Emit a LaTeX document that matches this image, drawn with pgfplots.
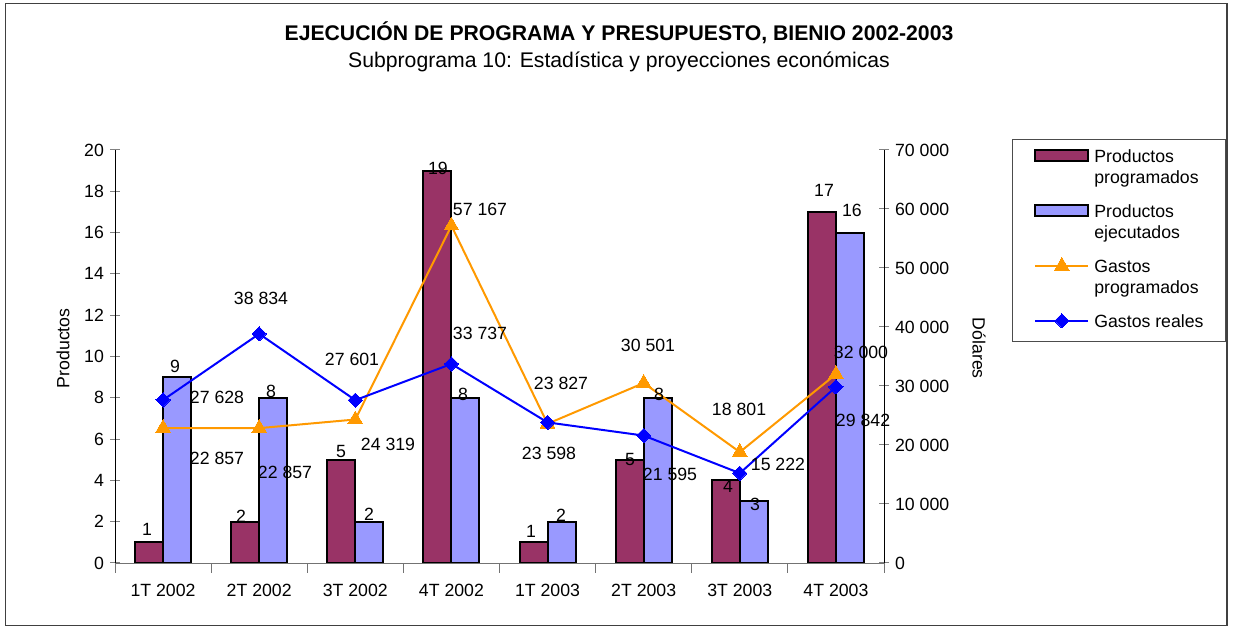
\documentclass[border=0pt]{standalone}
\usepackage{fontspec}
\setmainfont{Liberation Sans}
\usepackage{pgfplots}
\pgfplotsset{compat=1.18}
\definecolor{prog}{HTML}{993366}
\definecolor{ejec}{HTML}{9999FF}
\definecolor{gprog}{HTML}{FF9900}
\definecolor{greal}{HTML}{0000FF}
\pgfplotsset{
  base/.style={
    at={(115bp,66bp)}, anchor=south west, scale only axis,
    width=769bp, height=413bp, xmin=-0.5, xmax=7.5,
  },
  /pgf/number format/assume math mode=true,
  barleg/.style={legend image code/.code={\draw[##1] (0bp,1bp) rectangle (53bp,12bp);}},
  lineleg/.style={legend image code/.code={\draw[mark repeat=2, mark phase=2, ##1] plot coordinates {(0bp,6.5bp) (26.5bp,6.5bp) (53bp,6.5bp)};}},
}
\begin{document}
\fontsize{17.7bp}{21.2bp}\selectfont
\begin{tikzpicture}[x=1bp,y=1bp]
\path[use as bounding box] (0,0) rectangle (1233,629);
\draw[line width=1.2bp, black!75] (5.5,3.5) rectangle (1227,625.5);
\node[font=\fontsize{21.2bp}{25bp}\selectfont\bfseries] at (619,596) {EJECUCIÓN DE PROGRAMA Y PRESUPUESTO, BIENIO 2002-2003};
\node[font=\fontsize{21.2bp}{25bp}\selectfont] at (619,567) {Subprograma 10: Estadística y proyecciones económicas};

% ---------- left axis: bars ----------
\begin{axis}[base,
  ymin=0, ymax=20,
  axis x line*=bottom, axis y line*=left, axis line style={-},
  x axis line style={draw=black!55},
  xtick={-0.5,0.5,...,7.5}, xticklabels={},
  extra x ticks={0,1,2,3,4,5,6,7},
  extra x tick labels={1T 2002,2T 2002,3T 2002,4T 2002,1T 2003,2T 2003,3T 2003,4T 2003},
  extra x tick style={major tick length=0pt, xticklabel style={yshift=-15bp}},
  xtick style={draw=black!55, line width=1bp},
  ytick={0,2,...,20},
  ytick style={line width=1bp},
  tick align=center, major tick length=10bp,
  ylabel={Productos},
  ylabel style={at={(axis description cs:-0.0676,0.52)}, anchor=center},
  ybar, bar width=28bp,
]
\addplot[ybar, bar shift=-14bp, fill=prog, draw=black, line width=1.9bp]
  coordinates {(0,1) (1,2) (2,5) (3,19) (4,1) (5,5) (6,4) (7,17)};
\addplot[ybar, bar shift=14bp, fill=ejec, draw=black, line width=1.9bp]
  coordinates {(0,9) (1,8) (2,2) (3,8) (4,2) (5,8) (6,3) (7,16)};
\end{axis}

% ---------- right axis: lines ----------
\begin{axis}[base,
  ymin=0, ymax=70000,
  axis x line=none, axis y line*=right, axis line style={-},
  ytick={0,10000,...,70000}, scaled y ticks=false,
  yticklabel style={/pgf/number format/.cd, 1000 sep={\ }},
  ytick style={line width=1bp},
  tick align=center, major tick length=10bp,
  ylabel={Dólares},
  ylabel style={at={(axis description cs:1.1235,0.52)}, anchor=center, rotate=180},
  every axis legend/.style={
    at={(axis description cs:1.1664,1.0266)}, anchor=north west,
    draw=black!70, line width=0.8bp, fill=white,
    inner xsep=22bp, inner ysep=8bp,
    row sep=12.6bp, column sep=5bp,
    nodes={inner sep=0pt},
    cells={anchor=base west},
  },
]
\addlegendimage{fill=prog, draw=black, line width=1.9bp, barleg}
\addlegendentry{\begin{tabular}[t]{@{}l@{}}Productos\\programados\end{tabular}}
\addlegendimage{fill=ejec, draw=black, line width=1.9bp, barleg}
\addlegendentry{\begin{tabular}[t]{@{}l@{}}Productos\\ejecutados\end{tabular}}
\addplot[gprog, line width=2bp, mark=triangle*, mark size=8.5bp,
  mark options={fill=gprog, draw=gprog, line width=0pt}, lineleg]
  coordinates {(0,22857) (1,22857) (2,24319) (3,57167) (4,23598) (5,30501) (6,18801) (7,32000)};
\addlegendentry{\begin{tabular}[t]{@{}l@{}}Gastos\\programados\end{tabular}}
\addplot[greal, line width=2bp, mark=square*, mark size=5bp,
  mark options={fill=greal, draw=greal, line width=0pt, rotate=45}, lineleg]
  coordinates {(0,27628) (1,38834) (2,27601) (3,33737) (4,23827) (5,21595) (6,15222) (7,29842)};
\addlegendentry{\begin{tabular}[t]{@{}l@{}}Gastos reales\\ \end{tabular}}
\end{axis}

% ---------- data labels ----------
\begin{axis}[base, ymin=0, ymax=20, hide axis, clip=false]
\addplot[only marks, mark=none, nodes near coords, point meta=explicit symbolic,
  nodes near coords style={anchor=center, inner sep=0pt, black}]
  table[col sep=comma, x=x, y=y, meta=label] {
x,y,label
-0.167,1.65,1
0.124,9.54,9
0.811,2.28,2
1.123,8.33,8
1.851,5.38,5
2.142,2.37,2
2.860,19.13,19
3.120,8.14,8
3.828,1.55,1
4.140,2.32,2
4.858,4.99,5
5.159,8.18,8
5.877,3.73,4
6.158,2.86,3
6.876,18.06,17
7.167,17.05,16
0.561,8.04,27 628
0.561,5.08,22 857
1.019,12.83,38 834
1.269,4.41,22 857
1.966,9.88,27 601
2.340,5.76,24 319
3.297,17.14,57 167
3.297,11.14,33 737
4.140,8.72,23 827
4.015,5.33,23 598
5.045,10.56,30 501
5.274,4.31,21 595
5.992,7.46,18 801
6.397,4.79,15 222
7.261,10.22,32 000
7.282,6.92,29 842
};
\end{axis}
\end{tikzpicture}
\end{document}
